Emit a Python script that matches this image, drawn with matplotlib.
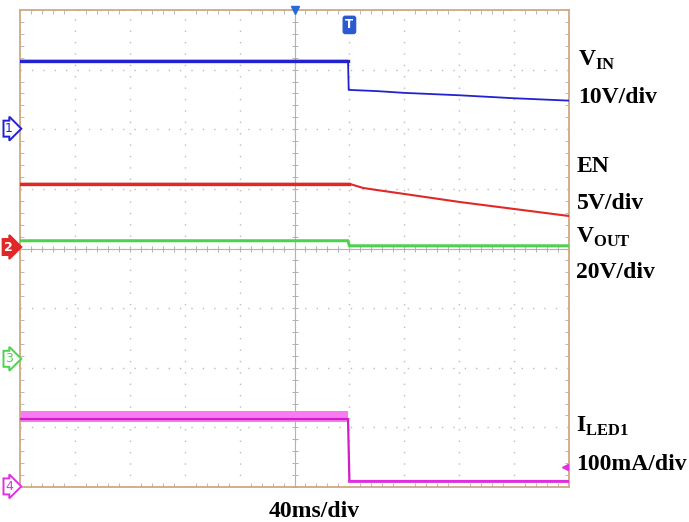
import numpy as np
import matplotlib
matplotlib.use("Agg")
import matplotlib.pyplot as plt
import matplotlib.transforms as mtransforms

W, H = 689, 522

# scope settings: 40 ms/div, 10 x 8 divisions
time_div_ms = 40
n_xdiv, n_ydiv = 10, 8

# channel 1: VIN (V), 10 V/div
vin_t = [0, 239, 239.5, 260, 280, 320, 360, 400]
vin_v = [11.4, 11.4, 6.5, 6.3, 6.0, 5.6, 5.1, 4.7]
# channel 2: EN (V), 5 V/div
en_t = [0, 240, 250, 260, 280, 320, 360, 400]
en_v = [5.3, 5.3, 4.95, 4.78, 4.45, 3.78, 3.19, 2.6]
# channel 3: VOUT (V), 20 V/div
vout_t = [0, 239, 240, 400]
vout_v = [39.6, 39.6, 37.9, 37.9]
# channel 4: ILED1 (mA), 100 mA/div
iled_t = [0, 239, 240, 400]
iled_ma = [113, 113, 9, 9]
ripple_t = [0, 239]
ripple_hi = [127, 127]
ripple_lo = [108, 108]

volts_per_div = [10, 5, 20, 100]
ground_div = [2.01, 0.025, -1.85, -3.99]
colors = ["#2222d0", "#e02828", "#50d050", "#e030e0"]
names = ["1", "2", "3", "4"]


def to_div(vals, ch):
    return np.array(vals, dtype=float) / volts_per_div[ch] + ground_div[ch]


plt.rcParams["mathtext.fontset"] = "custom"
plt.rcParams["mathtext.rm"] = "Liberation Serif:bold"
plt.rcParams["mathtext.bf"] = "Liberation Serif:bold"

fig = plt.figure(figsize=(W / 100, H / 100), dpi=100)
ax = fig.add_axes([20 / W, 35 / H, 549 / W, 477 / H])
ax.set_xlim(0, n_xdiv * time_div_ms)
ax.set_ylim(-n_ydiv / 2, n_ydiv / 2)

# graticule
ax.set_xticks(np.arange(0, 401, time_div_ms))
ax.set_yticks(np.arange(-4, 5, 1))
ax.set_xticks(np.arange(0, 401, time_div_ms / 5), minor=True)
ax.set_yticks(np.arange(-4, 4.01, 0.2), minor=True)
ax.tick_params(which="both", direction="in", top=True, right=True,
               labelbottom=False, labelleft=False, color="#b8b8b8")
ax.tick_params(which="major", length=0)
ax.tick_params(which="minor", length=3, width=0.7)
ax.grid(which="major", color="#bcbcbc", linestyle=(0, (1, 7.2)), linewidth=1)
for s in ax.spines.values():
    s.set_color("#cfa882")
    s.set_linewidth(1.3)

# centre crosshair with small ticks
ax.axhline(0, color="#b0b0c0", lw=0.8, zorder=1)
ax.axvline(200, color="#b0b0c0", lw=0.8, zorder=1)
xt = np.arange(0, 401, time_div_ms / 5)
yt = np.arange(-4, 4.01, 0.2)
ax.plot(xt, np.zeros_like(xt), "|", color="#b0b0b0", ms=5, mew=0.7, zorder=1)
ax.plot(np.full_like(yt, 200), yt, "_", color="#b0b0b0", ms=5, mew=0.7, zorder=1)

# traces
ax.plot(vin_t, to_div(vin_v, 0), color=colors[0], lw=1.3, zorder=3)
ax.plot(vin_t[:2], to_div(vin_v[:2], 0), color=colors[0], lw=2.4, zorder=3)

ax.plot(en_t, to_div(en_v, 1), color=colors[1], lw=1.5, zorder=3)
ax.plot(en_t[:2], to_div(en_v[:2], 1), color=colors[1], lw=2.4, zorder=3)

ax.plot(vout_t, to_div(vout_v, 2), color=colors[2], lw=2.2, zorder=3)

ax.fill_between(ripple_t, to_div(ripple_lo, 3), to_div(ripple_hi, 3),
                color="#f77cf2", lw=0, zorder=2)
ax.plot(iled_t, to_div(iled_ma, 3), color="#d21cc8", lw=1.6, zorder=3)
ax.plot(iled_t[2:], to_div(iled_ma[2:], 3), color=colors[3], lw=2.0, zorder=3)

# channel ground markers on the left
blend = mtransforms.blended_transform_factory(ax.transAxes, ax.transData)
for i in range(4):
    filled = i == 1
    ax.text(-0.013, ground_div[i], names[i], transform=blend, ha="right",
            va="center", fontsize=9, color="white" if filled else colors[i],
            fontweight="bold" if filled else "normal",
            bbox=dict(boxstyle="rarrow,pad=0.12", fc=colors[i] if filled else "white",
                      ec=colors[i], lw=1.4), clip_on=False, zorder=5)

# horizontal position and trigger markers
hpos_ms = 200
trig_ms = 240
ax.plot([hpos_ms], [4], marker="v", ms=6, color="#2a6ad8", clip_on=False, zorder=6)
ax.text(trig_ms, 3.75, "T", ha="center", va="center", fontsize=8.5, color="white",
        fontweight="bold",
        bbox=dict(boxstyle="round,pad=0.18", fc="#2a5ad0", ec="#2a5ad0"), zorder=6)
ax.plot([397], [-3.67], marker="<", ms=4, color=colors[3], zorder=6)

# labels
fs = 17
def label(x, y, s, ha="left"):
    fig.text(x / W, 1 - y / H, s, ha=ha, va="baseline", fontsize=fs,
             family="Liberation Serif", fontweight="bold")

label(578, 66, r"$\mathrm{V}_{\mathrm{IN}}$")
label(578, 103, "10V/div")
label(577, 172, "EN")
label(577, 209, "5V/div")
label(576, 243, r"$\mathrm{V}_{\mathrm{OUT}}$")
label(576, 278, "20V/div")
label(576, 432, r"$\mathrm{I}_{\mathrm{LED1}}$")
label(576, 470, "100mA/div")
label(314, 517, "40ms/div", ha="center")

fig.savefig("out.png", dpi=100)
